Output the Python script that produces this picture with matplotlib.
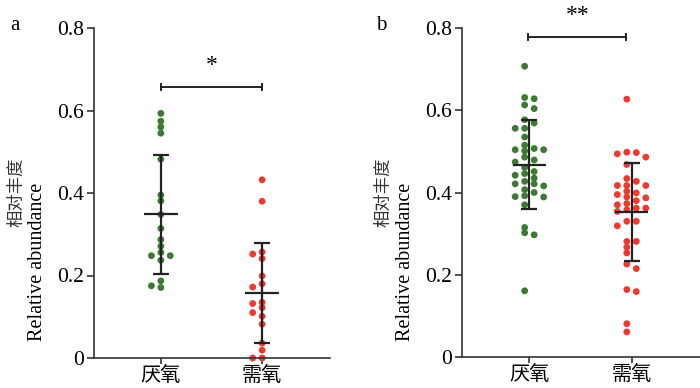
import numpy as np
import matplotlib
matplotlib.use('Agg')
import matplotlib.pyplot as plt

plt.rcParams['font.family'] = ['Liberation Serif', 'Noto Sans CJK SC']
plt.rcParams['axes.unicode_minus'] = False

groups = ['厌氧', '需氧']
yticks = [0, 0.2, 0.4, 0.6, 0.8]
ytick_labels = ['0', '0.2', '0.4', '0.6', '0.8']

# panel a
a_anaerobic = [0.593, 0.574, 0.560, 0.545, 0.482, 0.395, 0.381, 0.348, 0.314,
               0.287, 0.271, 0.256, 0.248, 0.248, 0.237, 0.187, 0.171, 0.175]
a_aerobic = [0.432, 0.380, 0.257, 0.252, 0.241, 0.199, 0.180, 0.172, 0.135,
             0.132, 0.122, 0.110, 0.101, 0.082, 0.036, 0.019, 0.0, 0.0]
a_sig = '*'

# panel b
b_anaerobic = [0.504, 0.446, 0.421, 0.389,
               0.707, 0.628, 0.613, 0.569, 0.556, 0.504, 0.474, 0.421, 0.407,
               0.400, 0.392, 0.370, 0.315, 0.297, 0.161,
               0.631, 0.604, 0.577, 0.556, 0.535, 0.507, 0.486, 0.451, 0.435,
               0.416, 0.302,
               0.515, 0.501, 0.479, 0.461, 0.442, 0.427, 0.390]
b_aerobic = [0.498, 0.427, 0.399, 0.387, 0.373, 0.362,
             0.627, 0.486, 0.468, 0.434, 0.417, 0.403, 0.380, 0.358, 0.330,
             0.281, 0.215, 0.159, 0.081, 0.061,
             0.494, 0.417, 0.389, 0.362, 0.319, 0.281, 0.267, 0.253, 0.226, 0.164,
             0.497, 0.417, 0.395, 0.370, 0.354, 0.330]
b_sig = '**'

green = '#3c7a34'
red = '#ec3a2e'
dark = '#222222'


def column_layout(vals, slots, gap):
    # put each point in the first column slot with no close neighbour
    vals = np.asarray(vals)
    placed = {s: [] for s in slots}
    out = np.zeros(len(vals))
    for i in np.argsort(-vals, kind='stable'):
        for s in slots:
            if all(abs(vals[i] - y) >= gap for y in placed[s]):
                placed[s].append(vals[i])
                out[i] = s
                break
    return out


def panel(ax, data, slots, sig, bracket, sig_xy, letter, lab_x):
    colors = [green, red]
    step = 0.093
    for k, vals in enumerate(data):
        vals = np.array(vals)
        off = column_layout(vals, slots, 0.013) * step
        ax.scatter(k + off, vals, s=24, color=colors[k], edgecolors='none',
                   zorder=2, clip_on=False)
        m = vals.mean()
        sd = vals.std(ddof=1)
        ax.errorbar(k, m, yerr=sd, fmt='none', ecolor=dark, elinewidth=1.6,
                    capsize=6, capthick=1.6, zorder=3)
        ax.hlines(m, k - 0.165, k + 0.165, color=dark, lw=1.6, zorder=3)
    x0, x1, yb = bracket
    ax.plot([x0, x1], [yb, yb], color=dark, lw=1.4, clip_on=False)
    ax.plot([x0, x0], [yb - 0.007, yb + 0.007], color=dark, lw=1.4, clip_on=False)
    ax.plot([x1, x1], [yb - 0.007, yb + 0.007], color=dark, lw=1.4, clip_on=False)
    ax.text(sig_xy[0], sig_xy[1], sig, ha='center', va='center', fontsize=17,
            clip_on=False)
    ax.set_xlim(-0.66, 1.67)
    ax.set_ylim(0, 0.8)
    ax.set_xticks([0, 1])
    ax.set_xticklabels(groups, fontsize=14.5, family=['Noto Sans CJK SC'])
    ax.set_yticks(yticks)
    ax.set_yticklabels(ytick_labels, fontsize=15.5)
    for s in ['top', 'right']:
        ax.spines[s].set_visible(False)
    for s in ['left', 'bottom']:
        ax.spines[s].set_linewidth(1.2)
        ax.spines[s].set_color('#333333')
    ax.tick_params(axis='y', length=5, width=1.2, color='#333333', pad=2)
    ax.tick_params(axis='x', length=4, width=1.2, color='#333333', pad=1)
    fig.text(letter[0], letter[1], letter[2], fontsize=15, ha='center', va='center')
    fig.text(lab_x[0], 0.505, '相对丰度', rotation=90, fontsize=12.5,
             ha='center', va='center', family=['Noto Sans CJK SC'], color='#333333')
    fig.text(lab_x[1], 0.325, 'Relative abundance', rotation=90, fontsize=14.5,
             ha='center', va='center')


fig = plt.figure(figsize=(7, 3.88), dpi=100)
ax1 = fig.add_axes([94 / 700, 30 / 388, 236 / 700, 330 / 388])
ax2 = fig.add_axes([462 / 700, 31 / 388, 238 / 700, 329 / 388])

panel(ax1, [a_anaerobic, a_aerobic], [0, -1, 1, -2, 2], a_sig,
      (0, 1, 0.657), (0.5, 0.71), (14.5 / 700, 1 - 25 / 388, 'a'),
      (16.5 / 700, 38 / 700))
panel(ax2, [b_anaerobic, b_aerobic], [-0.5, 0.5, -1.5, 1.5, -2.5, 2.5], b_sig,
      (-0.015, 0.95, 0.778), (0.47, 0.83), (381 / 700, 1 - 25 / 388, 'b'),
      (383 / 700, 405 / 700))

fig.savefig('out.png', dpi=100)
